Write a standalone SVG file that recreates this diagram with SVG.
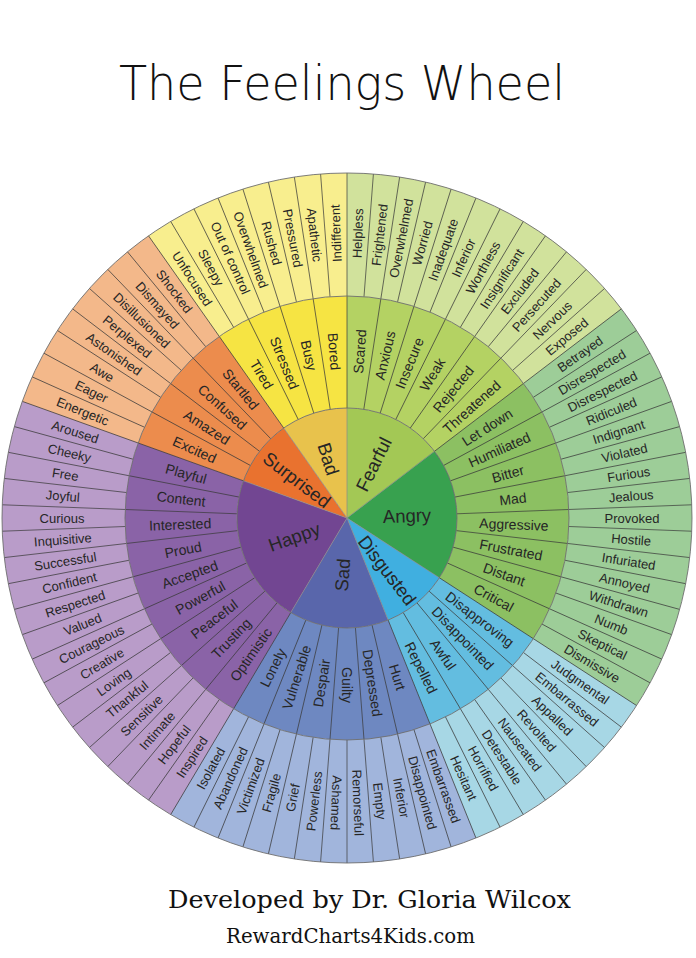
<svg xmlns="http://www.w3.org/2000/svg" width="696" height="958" viewBox="0 0 696 958">
<style>
.o{font-family:"Liberation Sans",Arial,sans-serif;font-size:13px;fill:#262626;text-anchor:middle;dominant-baseline:central}
.m{font-family:"Liberation Sans",Arial,sans-serif;font-size:14px;fill:#262626;text-anchor:middle;dominant-baseline:central}
.c{font-family:"Liberation Sans",Arial,sans-serif;font-size:18.5px;fill:#262626;text-anchor:middle;dominant-baseline:central}
.w3{fill:none;stroke-width:123}
.w2{fill:none;stroke-width:112}
.w1{fill:none;stroke-width:110}
.rl{stroke:#3a3a3a;stroke-width:0.7}
.ring{fill:none;stroke:#6e6e6e;stroke-width:0.9}
</style>
<defs>
<line id="lo" x1="0" y1="-222" x2="0" y2="-345"/>
<line id="lm" x1="0" y1="-110" x2="0" y2="-222"/>
<line id="lc" x1="0" y1="0" x2="0" y2="-110"/>
</defs>
<rect width="696" height="958" fill="#ffffff"/>
<text x="119" y="100" font-family="'DejaVu Sans',sans-serif" font-weight="300" font-size="48" fill="#111" textLength="446" lengthAdjust="spacingAndGlyphs">The Feelings Wheel</text>

<g transform="translate(347 518)">
<g id="fearful">
<circle class="w3" r="283.5" pathLength="360" stroke="#d1e29c" stroke-dasharray="52.78 400" transform="rotate(-90)"/>
<circle class="w2" r="166" pathLength="360" stroke="#b4d263" stroke-dasharray="52.78 400" transform="rotate(-90)"/>
<circle class="w1" r="55" pathLength="360" stroke="#a3c855" stroke-dasharray="52.78 400" transform="rotate(-90)"/>
<text class="o" transform="rotate(-87.805)" x="285">Helpless</text>
<text class="o" transform="rotate(-83.415)" x="285">Frightened</text>
<text class="o" transform="rotate(-79.024)" x="285">Overwhelmed</text>
<text class="o" transform="rotate(-74.634)" x="285">Worried</text>
<text class="o" transform="rotate(-70.244)" x="285">Inadequate</text>
<text class="o" transform="rotate(-65.854)" x="285">Inferior</text>
<text class="o" transform="rotate(-61.463)" x="285">Worthless</text>
<text class="o" transform="rotate(-57.073)" x="285">Insignificant</text>
<text class="o" transform="rotate(-52.683)" x="285">Excluded</text>
<text class="o" transform="rotate(-48.293)" x="285">Persecuted</text>
<text class="o" transform="rotate(-43.902)" x="285">Nervous</text>
<text class="o" transform="rotate(-39.512)" x="285">Exposed</text>
<text class="m" transform="rotate(-85.610)" x="167">Scared</text>
<text class="m" transform="rotate(-76.829)" x="167">Anxious</text>
<text class="m" transform="rotate(-68.049)" x="167">Insecure</text>
<text class="m" transform="rotate(-59.268)" x="167">Weak</text>
<text class="m" transform="rotate(-50.488)" x="167">Rejected</text>
<text class="m" transform="rotate(-41.707)" x="167">Threatened</text>
<text class="c" transform="rotate(-63.659)" x="60">Fearful</text>
</g>
<g id="angry">
<circle class="w3" r="283.5" pathLength="360" stroke="#9dcd98" stroke-dasharray="70.34 400" transform="rotate(-37.317)"/>
<circle class="w2" r="166" pathLength="360" stroke="#8cc062" stroke-dasharray="70.34 400" transform="rotate(-37.317)"/>
<circle class="w1" r="55" pathLength="360" stroke="#38a14f" stroke-dasharray="70.34 400" transform="rotate(-37.317)"/>
<text class="o" transform="rotate(-35.122)" x="285">Betrayed</text>
<text class="o" transform="rotate(-30.732)" x="285">Disrespected</text>
<text class="o" transform="rotate(-26.341)" x="285">Disrespected</text>
<text class="o" transform="rotate(-21.951)" x="285">Ridiculed</text>
<text class="o" transform="rotate(-17.561)" x="285">Indignant</text>
<text class="o" transform="rotate(-13.171)" x="285">Violated</text>
<text class="o" transform="rotate(-8.780)" x="285">Furious</text>
<text class="o" transform="rotate(-4.390)" x="285">Jealous</text>
<text class="o" transform="rotate(0)" x="285">Provoked</text>
<text class="o" transform="rotate(4.390)" x="285">Hostile</text>
<text class="o" transform="rotate(8.780)" x="285">Infuriated</text>
<text class="o" transform="rotate(13.171)" x="285">Annoyed</text>
<text class="o" transform="rotate(17.561)" x="285">Withdrawn</text>
<text class="o" transform="rotate(21.951)" x="285">Numb</text>
<text class="o" transform="rotate(26.341)" x="285">Skeptical</text>
<text class="o" transform="rotate(30.732)" x="285">Dismissive</text>
<text class="m" transform="rotate(-32.927)" x="167">Let down</text>
<text class="m" transform="rotate(-24.146)" x="167">Humiliated</text>
<text class="m" transform="rotate(-15.366)" x="167">Bitter</text>
<text class="m" transform="rotate(-6.585)" x="167">Mad</text>
<text class="m" transform="rotate(2.195)" x="167">Aggressive</text>
<text class="m" transform="rotate(10.976)" x="167">Frustrated</text>
<text class="m" transform="rotate(19.756)" x="167">Distant</text>
<text class="m" transform="rotate(28.537)" x="167">Critical</text>
<text class="c" transform="rotate(-2.195)" x="60">Angry</text>
</g>
<g id="disgusted">
<circle class="w3" r="283.5" pathLength="360" stroke="#a7d7e5" stroke-dasharray="35.22 400" transform="rotate(32.927)"/>
<circle class="w2" r="166" pathLength="360" stroke="#63bde0" stroke-dasharray="35.22 400" transform="rotate(32.927)"/>
<circle class="w1" r="55" pathLength="360" stroke="#40afe0" stroke-dasharray="35.22 400" transform="rotate(32.927)"/>
<text class="o" transform="rotate(35.122)" x="285">Judgmental</text>
<text class="o" transform="rotate(39.512)" x="285">Embarrassed</text>
<text class="o" transform="rotate(43.902)" x="285">Appalled</text>
<text class="o" transform="rotate(48.293)" x="285">Revolted</text>
<text class="o" transform="rotate(52.683)" x="285">Nauseated</text>
<text class="o" transform="rotate(57.073)" x="285">Detestable</text>
<text class="o" transform="rotate(61.463)" x="285">Horrified</text>
<text class="o" transform="rotate(65.854)" x="285">Hesitant</text>
<text class="m" transform="rotate(37.317)" x="167">Disapproving</text>
<text class="m" transform="rotate(46.098)" x="167">Disappointed</text>
<text class="m" transform="rotate(54.878)" x="167">Awful</text>
<text class="m" transform="rotate(63.659)" x="167">Repelled</text>
<text class="c" transform="rotate(52.5)" x="66">Disgusted</text>
</g>
<g id="sad">
<circle class="w3" r="283.5" pathLength="360" stroke="#a1b5dc" stroke-dasharray="52.78 400" transform="rotate(68.049)"/>
<circle class="w2" r="166" pathLength="360" stroke="#6e88c1" stroke-dasharray="52.78 400" transform="rotate(68.049)"/>
<circle class="w1" r="55" pathLength="360" stroke="#5966ab" stroke-dasharray="52.78 400" transform="rotate(68.049)"/>
<text class="o" transform="rotate(70.244)" x="285">Embarrassed</text>
<text class="o" transform="rotate(74.634)" x="285">Disappointed</text>
<text class="o" transform="rotate(79.024)" x="285">Inferior</text>
<text class="o" transform="rotate(83.415)" x="285">Empty</text>
<text class="o" transform="rotate(87.805)" x="285">Remorseful</text>
<text class="o" transform="rotate(92.195)" x="285">Ashamed</text>
<text class="o" transform="rotate(276.585)" x="-285">Powerless</text>
<text class="o" transform="rotate(280.976)" x="-285">Grief</text>
<text class="o" transform="rotate(285.366)" x="-285">Fragile</text>
<text class="o" transform="rotate(289.756)" x="-285">Victimized</text>
<text class="o" transform="rotate(294.146)" x="-285">Abandoned</text>
<text class="o" transform="rotate(298.537)" x="-285">Isolated</text>
<text class="m" transform="rotate(72.439)" x="167">Hurt</text>
<text class="m" transform="rotate(81.220)" x="167">Depressed</text>
<text class="m" transform="rotate(90)" x="167">Guilty</text>
<text class="m" transform="rotate(278.780)" x="-167">Despair</text>
<text class="m" transform="rotate(287.561)" x="-167">Vulnerable</text>
<text class="m" transform="rotate(296.341)" x="-167">Lonely</text>
<text class="c" transform="rotate(274.390)" x="-57">Sad</text>
</g>
<g id="happy">
<circle class="w3" r="283.5" pathLength="360" stroke="#b99cc9" stroke-dasharray="79.12 400" transform="rotate(120.732)"/>
<circle class="w2" r="166" pathLength="360" stroke="#8a63a7" stroke-dasharray="79.12 400" transform="rotate(120.732)"/>
<circle class="w1" r="55" pathLength="360" stroke="#724692" stroke-dasharray="79.12 400" transform="rotate(120.732)"/>
<text class="o" transform="rotate(302.927)" x="-285">Inspired</text>
<text class="o" transform="rotate(307.317)" x="-285">Hopeful</text>
<text class="o" transform="rotate(311.707)" x="-285">Intimate</text>
<text class="o" transform="rotate(316.098)" x="-285">Sensitive</text>
<text class="o" transform="rotate(320.488)" x="-285">Thankful</text>
<text class="o" transform="rotate(324.878)" x="-285">Loving</text>
<text class="o" transform="rotate(329.268)" x="-285">Creative</text>
<text class="o" transform="rotate(333.659)" x="-285">Courageous</text>
<text class="o" transform="rotate(338.049)" x="-285">Valued</text>
<text class="o" transform="rotate(342.439)" x="-285">Respected</text>
<text class="o" transform="rotate(346.829)" x="-285">Confident</text>
<text class="o" transform="rotate(351.220)" x="-285">Successful</text>
<text class="o" transform="rotate(355.610)" x="-285">Inquisitive</text>
<text class="o" transform="rotate(360)" x="-285">Curious</text>
<text class="o" transform="rotate(364.390)" x="-285">Joyful</text>
<text class="o" transform="rotate(368.780)" x="-285">Free</text>
<text class="o" transform="rotate(373.171)" x="-285">Cheeky</text>
<text class="o" transform="rotate(377.561)" x="-285">Aroused</text>
<text class="m" transform="rotate(305.122)" x="-167">Optimistic</text>
<text class="m" transform="rotate(313.902)" x="-167">Trusting</text>
<text class="m" transform="rotate(322.683)" x="-167">Peaceful</text>
<text class="m" transform="rotate(331.463)" x="-167">Powerful</text>
<text class="m" transform="rotate(340.244)" x="-167">Accepted</text>
<text class="m" transform="rotate(349.024)" x="-167">Proud</text>
<text class="m" transform="rotate(357.805)" x="-167">Interested</text>
<text class="m" transform="rotate(366.585)" x="-167">Content</text>
<text class="m" transform="rotate(375.366)" x="-167">Playful</text>
<text class="c" transform="rotate(340.244)" x="-56">Happy</text>
</g>
<g id="surprised">
<circle class="w3" r="283.5" pathLength="360" stroke="#f3b88a" stroke-dasharray="35.22 400" transform="rotate(199.756)"/>
<circle class="w2" r="166" pathLength="360" stroke="#ec8c4d" stroke-dasharray="35.22 400" transform="rotate(199.756)"/>
<circle class="w1" r="55" pathLength="360" stroke="#e9722f" stroke-dasharray="35.22 400" transform="rotate(199.756)"/>
<text class="o" transform="rotate(381.951)" x="-285">Energetic</text>
<text class="o" transform="rotate(386.341)" x="-285">Eager</text>
<text class="o" transform="rotate(390.732)" x="-285">Awe</text>
<text class="o" transform="rotate(395.122)" x="-285">Astonished</text>
<text class="o" transform="rotate(399.512)" x="-285">Perplexed</text>
<text class="o" transform="rotate(403.902)" x="-285">Disillusioned</text>
<text class="o" transform="rotate(408.293)" x="-285">Dismayed</text>
<text class="o" transform="rotate(412.683)" x="-285">Shocked</text>
<text class="m" transform="rotate(384.146)" x="-167">Excited</text>
<text class="m" transform="rotate(392.927)" x="-167">Amazed</text>
<text class="m" transform="rotate(401.707)" x="-167">Confused</text>
<text class="m" transform="rotate(410.488)" x="-167">Startled</text>
<text class="c" transform="rotate(397.317)" x="-63">Surprised</text>
</g>
<g id="bad">
<circle class="w3" r="283.5" pathLength="360" stroke="#f8ee8e" stroke-dasharray="35.12 400" transform="rotate(234.878)"/>
<circle class="w2" r="166" pathLength="360" stroke="#f6e443" stroke-dasharray="35.12 400" transform="rotate(234.878)"/>
<circle class="w1" r="55" pathLength="360" stroke="#e8c24c" stroke-dasharray="35.12 400" transform="rotate(234.878)"/>
<text class="o" transform="rotate(417.073)" x="-285">Unfocused</text>
<text class="o" transform="rotate(421.463)" x="-285">Sleepy</text>
<text class="o" transform="rotate(425.854)" x="-285">Out of control</text>
<text class="o" transform="rotate(430.244)" x="-285">Overwhelmed</text>
<text class="o" transform="rotate(434.634)" x="-285">Rushed</text>
<text class="o" transform="rotate(439.024)" x="-285">Pressured</text>
<text class="o" transform="rotate(443.415)" x="-285">Apathetic</text>
<text class="o" transform="rotate(-92.195)" x="285">Indifferent</text>
<text class="m" transform="rotate(419.268)" x="-167">Tired</text>
<text class="m" transform="rotate(428.049)" x="-167">Stressed</text>
<text class="m" transform="rotate(436.829)" x="-167">Busy</text>
<text class="m" transform="rotate(445.610)" x="-167">Bored</text>
<text class="c" transform="rotate(432.439)" x="-62">Bad</text>
</g>

<g id="connectors" class="rl">
<use href="#lo" transform="rotate(0)"/>
<use href="#lo" transform="rotate(4.390)"/>
<use href="#lo" transform="rotate(8.780)"/>
<use href="#lo" transform="rotate(13.171)"/>
<use href="#lo" transform="rotate(17.561)"/>
<use href="#lo" transform="rotate(21.951)"/>
<use href="#lo" transform="rotate(26.341)"/>
<use href="#lo" transform="rotate(30.732)"/>
<use href="#lo" transform="rotate(35.122)"/>
<use href="#lo" transform="rotate(39.512)"/>
<use href="#lo" transform="rotate(43.902)"/>
<use href="#lo" transform="rotate(48.293)"/>
<use href="#lo" transform="rotate(52.683)"/>
<use href="#lo" transform="rotate(57.073)"/>
<use href="#lo" transform="rotate(61.463)"/>
<use href="#lo" transform="rotate(65.854)"/>
<use href="#lo" transform="rotate(70.244)"/>
<use href="#lo" transform="rotate(74.634)"/>
<use href="#lo" transform="rotate(79.024)"/>
<use href="#lo" transform="rotate(83.415)"/>
<use href="#lo" transform="rotate(87.805)"/>
<use href="#lo" transform="rotate(92.195)"/>
<use href="#lo" transform="rotate(96.585)"/>
<use href="#lo" transform="rotate(100.976)"/>
<use href="#lo" transform="rotate(105.366)"/>
<use href="#lo" transform="rotate(109.756)"/>
<use href="#lo" transform="rotate(114.146)"/>
<use href="#lo" transform="rotate(118.537)"/>
<use href="#lo" transform="rotate(122.927)"/>
<use href="#lo" transform="rotate(127.317)"/>
<use href="#lo" transform="rotate(131.707)"/>
<use href="#lo" transform="rotate(136.098)"/>
<use href="#lo" transform="rotate(140.488)"/>
<use href="#lo" transform="rotate(144.878)"/>
<use href="#lo" transform="rotate(149.268)"/>
<use href="#lo" transform="rotate(153.659)"/>
<use href="#lo" transform="rotate(158.049)"/>
<use href="#lo" transform="rotate(162.439)"/>
<use href="#lo" transform="rotate(166.829)"/>
<use href="#lo" transform="rotate(171.220)"/>
<use href="#lo" transform="rotate(175.610)"/>
<use href="#lo" transform="rotate(180)"/>
<use href="#lo" transform="rotate(184.390)"/>
<use href="#lo" transform="rotate(188.780)"/>
<use href="#lo" transform="rotate(193.171)"/>
<use href="#lo" transform="rotate(197.561)"/>
<use href="#lo" transform="rotate(201.951)"/>
<use href="#lo" transform="rotate(206.341)"/>
<use href="#lo" transform="rotate(210.732)"/>
<use href="#lo" transform="rotate(215.122)"/>
<use href="#lo" transform="rotate(219.512)"/>
<use href="#lo" transform="rotate(223.902)"/>
<use href="#lo" transform="rotate(228.293)"/>
<use href="#lo" transform="rotate(232.683)"/>
<use href="#lo" transform="rotate(237.073)"/>
<use href="#lo" transform="rotate(241.463)"/>
<use href="#lo" transform="rotate(245.854)"/>
<use href="#lo" transform="rotate(250.244)"/>
<use href="#lo" transform="rotate(254.634)"/>
<use href="#lo" transform="rotate(259.024)"/>
<use href="#lo" transform="rotate(263.415)"/>
<use href="#lo" transform="rotate(267.805)"/>
<use href="#lo" transform="rotate(272.195)"/>
<use href="#lo" transform="rotate(276.585)"/>
<use href="#lo" transform="rotate(280.976)"/>
<use href="#lo" transform="rotate(285.366)"/>
<use href="#lo" transform="rotate(289.756)"/>
<use href="#lo" transform="rotate(294.146)"/>
<use href="#lo" transform="rotate(298.537)"/>
<use href="#lo" transform="rotate(302.927)"/>
<use href="#lo" transform="rotate(307.317)"/>
<use href="#lo" transform="rotate(311.707)"/>
<use href="#lo" transform="rotate(316.098)"/>
<use href="#lo" transform="rotate(320.488)"/>
<use href="#lo" transform="rotate(324.878)"/>
<use href="#lo" transform="rotate(329.268)"/>
<use href="#lo" transform="rotate(333.659)"/>
<use href="#lo" transform="rotate(338.049)"/>
<use href="#lo" transform="rotate(342.439)"/>
<use href="#lo" transform="rotate(346.829)"/>
<use href="#lo" transform="rotate(351.220)"/>
<use href="#lo" transform="rotate(355.610)"/>
<use href="#lm" transform="rotate(0)"/>
<use href="#lm" transform="rotate(8.780)"/>
<use href="#lm" transform="rotate(17.561)"/>
<use href="#lm" transform="rotate(26.341)"/>
<use href="#lm" transform="rotate(35.122)"/>
<use href="#lm" transform="rotate(43.902)"/>
<use href="#lm" transform="rotate(52.683)"/>
<use href="#lm" transform="rotate(61.463)"/>
<use href="#lm" transform="rotate(70.244)"/>
<use href="#lm" transform="rotate(79.024)"/>
<use href="#lm" transform="rotate(87.805)"/>
<use href="#lm" transform="rotate(96.585)"/>
<use href="#lm" transform="rotate(105.366)"/>
<use href="#lm" transform="rotate(114.146)"/>
<use href="#lm" transform="rotate(122.927)"/>
<use href="#lm" transform="rotate(131.707)"/>
<use href="#lm" transform="rotate(140.488)"/>
<use href="#lm" transform="rotate(149.268)"/>
<use href="#lm" transform="rotate(158.049)"/>
<use href="#lm" transform="rotate(166.829)"/>
<use href="#lm" transform="rotate(175.610)"/>
<use href="#lm" transform="rotate(184.390)"/>
<use href="#lm" transform="rotate(193.171)"/>
<use href="#lm" transform="rotate(201.951)"/>
<use href="#lm" transform="rotate(210.732)"/>
<use href="#lm" transform="rotate(219.512)"/>
<use href="#lm" transform="rotate(228.293)"/>
<use href="#lm" transform="rotate(237.073)"/>
<use href="#lm" transform="rotate(245.854)"/>
<use href="#lm" transform="rotate(254.634)"/>
<use href="#lm" transform="rotate(263.415)"/>
<use href="#lm" transform="rotate(272.195)"/>
<use href="#lm" transform="rotate(280.976)"/>
<use href="#lm" transform="rotate(289.756)"/>
<use href="#lm" transform="rotate(298.537)"/>
<use href="#lm" transform="rotate(307.317)"/>
<use href="#lm" transform="rotate(316.098)"/>
<use href="#lm" transform="rotate(324.878)"/>
<use href="#lm" transform="rotate(333.659)"/>
<use href="#lm" transform="rotate(342.439)"/>
<use href="#lm" transform="rotate(351.220)"/>
<use href="#lc" transform="rotate(0)" stroke="#8a8a8a"/>
<use href="#lc" transform="rotate(52.683)" stroke="#8a8a8a"/>
<use href="#lc" transform="rotate(122.927)" stroke="#8a8a8a"/>
<use href="#lc" transform="rotate(158.049)" stroke="#8a8a8a"/>
<use href="#lc" transform="rotate(210.732)" stroke="#8a8a8a"/>
<use href="#lc" transform="rotate(289.756)" stroke="#8a8a8a"/>
<use href="#lc" transform="rotate(324.878)" stroke="#8a8a8a"/>
<circle class="ring" r="110"/>
<circle class="ring" r="222"/>
<circle class="ring" r="345"/>
</g>
</g>

<text x="168" y="908" font-family="'DejaVu Serif','Liberation Serif',serif" font-size="25" fill="#111" textLength="403" lengthAdjust="spacingAndGlyphs">Developed by Dr. Gloria Wilcox</text>
<text x="226" y="943" font-family="'DejaVu Serif','Liberation Serif',serif" font-size="20" fill="#111" textLength="249" lengthAdjust="spacingAndGlyphs">RewardCharts4Kids.com</text>
</svg>
